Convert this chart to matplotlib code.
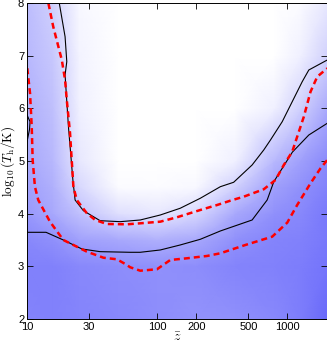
import matplotlib
matplotlib.use("Agg")
import matplotlib.pyplot as plt
import numpy as np
from matplotlib.colors import LinearSegmentedColormap

# background density, rows = T nodes, cols = log10(z) nodes (0 white .. 1 blue)
bg_logz = [1.0, 1.2, 1.4, 1.7, 2.0, 2.3, 2.6, 2.9, 3.1, 3.31]
bg_T = [2.0, 3.0, 3.5, 4.0, 4.5, 5.0, 6.0, 7.0, 8.0]
bg_level = [
    [0.78, 0.80, 0.78, 0.75, 0.72, 0.68, 0.70, 0.75, 0.82, 0.95],
    [0.80, 0.80, 0.75, 0.72, 0.70, 0.72, 0.78, 0.80, 0.82, 0.88],
    [0.75, 0.70, 0.60, 0.55, 0.50, 0.55, 0.70, 0.78, 0.80, 0.85],
    [0.65, 0.55, 0.40, 0.20, 0.15, 0.25, 0.55, 0.70, 0.75, 0.85],
    [0.60, 0.50, 0.25, 0.03, 0.02, 0.05, 0.30, 0.60, 0.70, 0.80],
    [0.55, 0.45, 0.15, 0.00, 0.00, 0.00, 0.10, 0.45, 0.60, 0.75],
    [0.50, 0.40, 0.10, 0.00, 0.00, 0.00, 0.00, 0.10, 0.30, 0.55],
    [0.45, 0.35, 0.08, 0.00, 0.00, 0.00, 0.00, 0.00, 0.10, 0.30],
    [0.42, 0.30, 0.05, 0.00, 0.00, 0.00, 0.00, 0.00, 0.03, 0.15],
]

# black contours
blk_up_z = [17.7, 19.6, 20.2, 19.6, 20.8, 22.5, 23.4, 27.1, 36.4, 51.9, 74, 105.5, 150,
            214, 305, 386, 535, 657, 740, 911, 1087, 1297, 1458, 2021]
blk_up_T = [8.0, 7.365, 6.89, 6.637, 5.654, 4.641, 4.26, 4.057, 3.867, 3.848, 3.88, 3.975,
            4.103, 4.293, 4.513, 4.597, 4.926, 5.211, 5.401, 5.749, 6.129, 6.509, 6.732, 6.922]
blk_lo_z = [10, 14.0, 19.0, 26.4, 36.4, 62, 74, 105.5, 150, 214, 305, 535, 698, 785, 911,
            1090, 1458, 2021]
blk_lo_T = [3.646, 3.646, 3.50, 3.329, 3.278, 3.266, 3.266, 3.31, 3.405, 3.513, 3.671, 3.88,
            4.26, 4.608, 4.863, 5.17, 5.496, 5.719]
blk_bit_z = [10, 10.55, 10.45, 10]
blk_bit_T = [5.876, 5.75, 5.6, 5.369]

# red dashed contours
red_up_z = [14.6, 15.9, 18.5, 19.6, 20.2, 21.4, 22.7, 24.1, 28.8, 33.4, 41, 58.5, 74, 105.5,
            141.8, 214, 288, 364, 461, 657, 809, 937, 1087, 1187, 1335, 1503, 1693, 2021]
red_up_T = [8.0, 7.555, 6.922, 6.542, 6.162, 5.529, 4.513, 4.26, 4.008, 3.88, 3.804, 3.798,
            3.817, 3.848, 3.932, 4.07, 4.165, 4.247, 4.323, 4.464, 4.641, 4.926, 5.179, 5.464,
            5.844, 6.319, 6.605, 6.764]
red_lo_z = [10.05, 10.55, 10.87, 11.05, 11.5, 12.2, 15.0, 19.0, 22.7, 28.8, 38.6, 49, 56.7,
            62, 74, 99.5, 126, 169, 241, 305, 364, 475, 763, 995, 1187, 1503, 1794, 2021]
red_lo_T = [6.764, 6.289, 5.654, 5.021, 4.513, 4.26, 3.848, 3.5, 3.405, 3.278, 3.163, 3.133,
            3.044, 2.981, 2.916, 2.943, 3.12, 3.152, 3.196, 3.247, 3.31, 3.405, 3.563, 3.829,
            4.165, 4.578, 4.863, 5.021]

xticks = [10, 30, 100, 200, 500, 1000]
yticks = [2, 3, 4, 5, 6, 7, 8]

plt.rcParams['font.family'] = ['Liberation Sans', 'DejaVu Sans']
plt.rcParams['mathtext.fontset'] = 'cm'

fig = plt.figure(figsize=(3.27, 3.45), dpi=100)
ax = fig.add_axes([0.0826, 0.0757, 0.9165, 0.9148])

cmap = LinearSegmentedColormap.from_list('wb', [(1, 1, 1), (0.38, 0.38, 0.98)])
Z, TT = np.meshgrid(10 ** np.array(bg_logz), bg_T)
ax.pcolormesh(Z, TT, np.array(bg_level), cmap=cmap, vmin=0, vmax=1,
              shading='gouraud', rasterized=True)

ax.plot(blk_up_z, blk_up_T, color='black', lw=0.8)
ax.plot(blk_lo_z, blk_lo_T, color='black', lw=0.8)
ax.plot(blk_bit_z, blk_bit_T, color='black', lw=0.8)
ax.plot(red_up_z, red_up_T, color='red', lw=1.8, dashes=(2.4, 1.6))
ax.plot(red_lo_z, red_lo_T, color='red', lw=1.8, dashes=(2.4, 1.6))

ax.set_xscale('log')
ax.set_xlim(10, 2000)
ax.set_ylim(2, 8)
ax.xaxis.set_minor_locator(matplotlib.ticker.NullLocator())
ax.set_xticks(xticks)
ax.set_xticklabels([str(t) for t in xticks])
ax.set_yticks(yticks)
ax.tick_params(direction='in', top=True, right=True, length=4, width=0.6,
               labelsize=8, pad=2)
for sp in ax.spines.values():
    sp.set_linewidth(0.7)

ax.set_xlabel(r'$\bar{z}$', fontsize=10, labelpad=-1)
ax.set_ylabel(r'$\log_{10}(T_{\rm h}/{\rm K})$', fontsize=9.5)
ax.yaxis.set_label_coords(-0.034, 0.5)

fig.savefig('out.png', dpi=100)
